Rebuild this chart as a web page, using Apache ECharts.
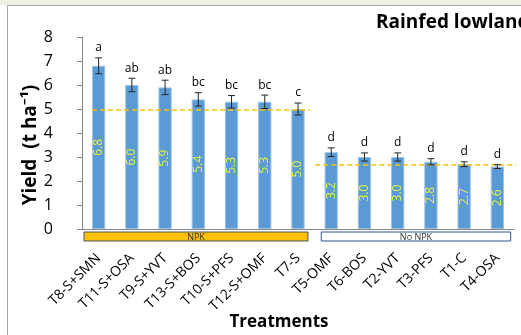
<!DOCTYPE html>
<html><head><meta charset="utf-8">
<script src="https://cdn.jsdelivr.net/npm/echarts@6/dist/echarts.min.js"></script>
<style>html,body{margin:0;padding:0;background:#fff}#c{width:521px;height:335px}</style>
</head><body><div id="c"></div>
<script>
var categories = ['T8-S+SMN','T11-S+OSA','T9-S+YVT','T13-S+BOS','T10-S+PFS','T12-S+OMF','T7-S','T5-OMF','T6-BOS','T2-YVT','T3-PFS','T1-C','T4-OSA'];
var yields = [6.8, 6.0, 5.9, 5.4, 5.3, 5.3, 5.0, 3.2, 3.0, 3.0, 2.8, 2.7, 2.6];
var errors = [0.33, 0.28, 0.30, 0.28, 0.26, 0.28, 0.25, 0.18, 0.17, 0.17, 0.13, 0.10, 0.08];
var letters = ['a','ab','ab','bc','bc','bc','c','d','d','d','d','d','d'];
var groupBoxes = [[0.06, 6.8, 'NPK'], [7.2, 12.9, 'No NPK']];
var meanNPK = [[0.3, 4.96], [6.85, 4.96]];
var meanNoNPK = [[7.02, 2.67], [13.3, 2.67]];

var font = '"Open Sans", "Noto Sans", sans-serif';
var chart = echarts.init(document.getElementById('c'));
chart.setOption({
  animation: false,
  backgroundColor: '#fff',
  textStyle: {fontFamily: font},
  grid: {left: 82, right: 7, top: 37, bottom: 106},
  graphic: [
    {type: 'rect', shape: {x: 0, y: 0, width: 521, height: 5}, style: {fill: '#eef0e2'}, silent: true},
    {type: 'line', shape: {x1: 7, y1: 5.5, x2: 521, y2: 5.5}, style: {stroke: '#a6a6a6', lineWidth: 1}},
    {type: 'line', shape: {x1: 7.5, y1: 5, x2: 7.5, y2: 335}, style: {stroke: '#a6a6a6', lineWidth: 1}},
    {type: 'text', x: 376, y: 23, style: {text: 'Rainfed lowland', font: 'bold 19px ' + font, fill: '#000', textVerticalAlign: 'middle'}},
    {type: 'text', x: 279, y: 322, style: {text: 'Treatments', font: 'bold 17px ' + font, fill: '#000', textAlign: 'center', textVerticalAlign: 'middle'}},
    {type: 'text', x: 31, y: 145, rotation: Math.PI / 2, style: {text: 'Yield  (t ha\u207B\u00B9)', font: 'bold 19px ' + font, fill: '#000', textAlign: 'center', textVerticalAlign: 'middle'}}
  ],
  xAxis: [{
    type: 'category', data: categories,
    axisLine: {show: true, lineStyle: {color: '#868686', width: 1}},
    axisTick: {show: false},
    axisLabel: {rotate: 45, margin: 27, fontSize: 14, color: '#000', fontFamily: font, interval: 0}
  }, {
    type: 'value', min: 0, max: 13, show: false
  }],
  yAxis: {
    type: 'value', min: 0, max: 8, interval: 1,
    axisLine: {show: true, lineStyle: {color: '#868686', width: 1}},
    axisTick: {show: true, inside: false, length: 5, lineStyle: {color: '#868686'}},
    splitLine: {show: false},
    axisLabel: {fontSize: 16, color: '#000', margin: 29, fontFamily: font}
  },
  series: [{
    type: 'bar', data: yields, barWidth: '40%',
    itemStyle: {color: '#5b9bd5', borderColor: '#9dc3e6', borderWidth: 1},
    label: {show: true, position: 'inside', rotate: 90, color: '#e8f53a', fontSize: 12, fontFamily: font,
      formatter: function(p){ return p.value.toFixed(1); }}
  }, {
    type: 'custom', xAxisIndex: 0,
    data: yields.map(function(v, i){ return [i, v, errors[i]]; }),
    renderItem: function(params, api){
      var i = api.value(0), v = api.value(1), e = api.value(2);
      var top = api.coord([i, v + e]), bot = api.coord([i, v - e]);
      var x = top[0], hw = 3.5;
      var st = {stroke: '#262626', lineWidth: 1};
      return {type: 'group', children: [
        {type: 'line', shape: {x1: x, y1: top[1], x2: x, y2: bot[1]}, style: st},
        {type: 'line', shape: {x1: x - hw, y1: top[1], x2: x + hw, y2: top[1]}, style: st},
        {type: 'line', shape: {x1: x - hw, y1: bot[1], x2: x + hw, y2: bot[1]}, style: st},
        {type: 'text', x: x, y: top[1] - 4, style: {text: letters[params.dataIndex], textAlign: 'center', textVerticalAlign: 'bottom', font: '12px ' + font, fill: '#000'}}
      ]};
    },
    z: 5
  }, {
    type: 'line', xAxisIndex: 1, data: meanNPK, symbol: 'none', clip: false,
    lineStyle: {color: '#ffc000', width: 1.5, type: [5, 3]}, z: 4
  }, {
    type: 'line', xAxisIndex: 1, data: meanNoNPK, symbol: 'none', clip: false,
    lineStyle: {color: '#ffc000', width: 1.5, type: [5, 3]}, z: 4
  }, {
    type: 'custom', xAxisIndex: 1, clip: false,
    data: groupBoxes,
    renderItem: function(params, api){
      var a = api.coord([api.value(0), 0]), b = api.coord([api.value(1), 0]);
      var y = a[1] + 3, h = 9;
      var npk = params.dataIndex === 0;
      return {type: 'group', children: [
        {type: 'rect', shape: {x: a[0], y: y, width: b[0] - a[0], height: h},
          style: {fill: npk ? '#ffc000' : '#fff', stroke: npk ? '#44546a' : '#2f5597', lineWidth: 1}},
        {type: 'text', x: (a[0] + b[0]) / 2, y: y + h / 2 + 0.5,
          style: {text: groupBoxes[params.dataIndex][2], textAlign: 'center', textVerticalAlign: 'middle', font: '9px ' + font, fill: '#333'}}
      ]};
    },
    z: 6
  }]
});
</script></body></html>
